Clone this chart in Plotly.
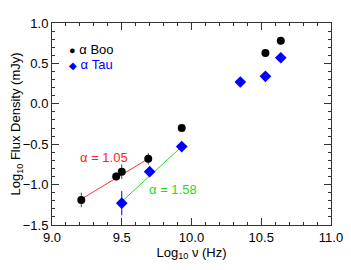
import plotly.graph_objects as go

# alpha Boo (black circles)
boo_x = [9.21, 9.46, 9.50, 9.69, 9.93, 10.53, 10.64]
boo_y = [-1.19, -0.90, -0.84, -0.68, -0.30, 0.63, 0.78]
boo_err = [0.09, 0.05, 0.09, 0.07, 0.0, 0.0, 0.0]

# alpha Tau (blue diamonds)
tau_x = [9.50, 9.70, 9.93, 10.35, 10.53, 10.64]
tau_y = [-1.23, -0.84, -0.53, 0.27, 0.34, 0.57]
tau_err = [0.15, 0.03, 0.0, 0.0, 0.0, 0.0]

# fitted spectral-index lines
fit_boo_x = [9.21, 9.69]
fit_boo_y = [-1.18, -0.68]
fit_tau_x = [9.50, 9.93]
fit_tau_y = [-1.21, -0.53]

font = "Liberation Sans, Arial, Helvetica, sans-serif"

fig = go.Figure()
fig.add_trace(go.Scatter(x=fit_boo_x, y=fit_boo_y, mode="lines",
                         line=dict(color="#ff3333", width=1), showlegend=False))
fig.add_trace(go.Scatter(x=fit_tau_x, y=fit_tau_y, mode="lines",
                         line=dict(color="#22dd22", width=1), showlegend=False))
fig.add_trace(go.Scatter(x=boo_x, y=boo_y, mode="markers", name="α Boo",
                         marker=dict(color="black", size=8, symbol="circle"),
                         error_y=dict(type="data", array=boo_err, color="#444444",
                                      thickness=1, width=0), showlegend=False))
fig.add_trace(go.Scatter(x=tau_x, y=tau_y, mode="markers", name="α Tau",
                         marker=dict(color="#0000ff", size=9, symbol="diamond"),
                         error_y=dict(type="data", array=tau_err, color="#0000ff",
                                      thickness=1, width=0), showlegend=False))

# legend drawn as text (small symbols, coloured labels, as in the reference)
fig.add_annotation(x=0.054, y=0.87, xref="paper", yref="paper", xanchor="left",
                   yanchor="middle", showarrow=False,
                   text="<span style='font-size:11px'>●</span> α Boo",
                   font=dict(color="black", size=13, family=font))
fig.add_annotation(x=0.054, y=0.795, xref="paper", yref="paper", xanchor="left",
                   yanchor="middle", showarrow=False,
                   text="<span style='font-size:10px'>◆</span> α Tau",
                   font=dict(color="#0000ff", size=13, family=font))

fig.add_annotation(x=9.37, y=-0.67, text="α = 1.05", showarrow=False,
                   font=dict(color="#ff2222", size=13, family=font))
fig.add_annotation(x=9.87, y=-1.06, text="α = 1.58", showarrow=False,
                   font=dict(color="#22dd22", size=13, family=font))

axis_common = dict(showgrid=False, zeroline=False, showline=True, mirror="allticks",
                   linecolor="#333333", linewidth=1, ticks="inside", ticklen=7,
                   tickcolor="#333333", automargin=False,
                   tickfont=dict(size=13, color="black", family=font))

fig.update_xaxes(range=[9.0, 11.0], dtick=0.5, tickformat=".1f",
                 minor=dict(dtick=0.1, ticks="inside", ticklen=3, tickcolor="#333333"),
                 title=dict(text="Log<sub>10</sub> ν (Hz)", font=dict(size=13, family=font),
                            standoff=2),
                 **axis_common)
fig.update_yaxes(range=[-1.5, 1.0], dtick=0.5, tickformat=".1f",
                 minor=dict(dtick=0.1, ticks="inside", ticklen=3, tickcolor="#333333"),
                 title=dict(text="Log<sub>10</sub> Flux Density (mJy)",
                            font=dict(size=13, family=font), standoff=4),
                 **axis_common)

fig.update_layout(width=351, height=270, margin=dict(l=44, r=28, t=15, b=53),
                  paper_bgcolor="white", plot_bgcolor="white",
                  font=dict(family=font, color="black", size=13),
                  showlegend=False)

fig.write_html("out.html")
